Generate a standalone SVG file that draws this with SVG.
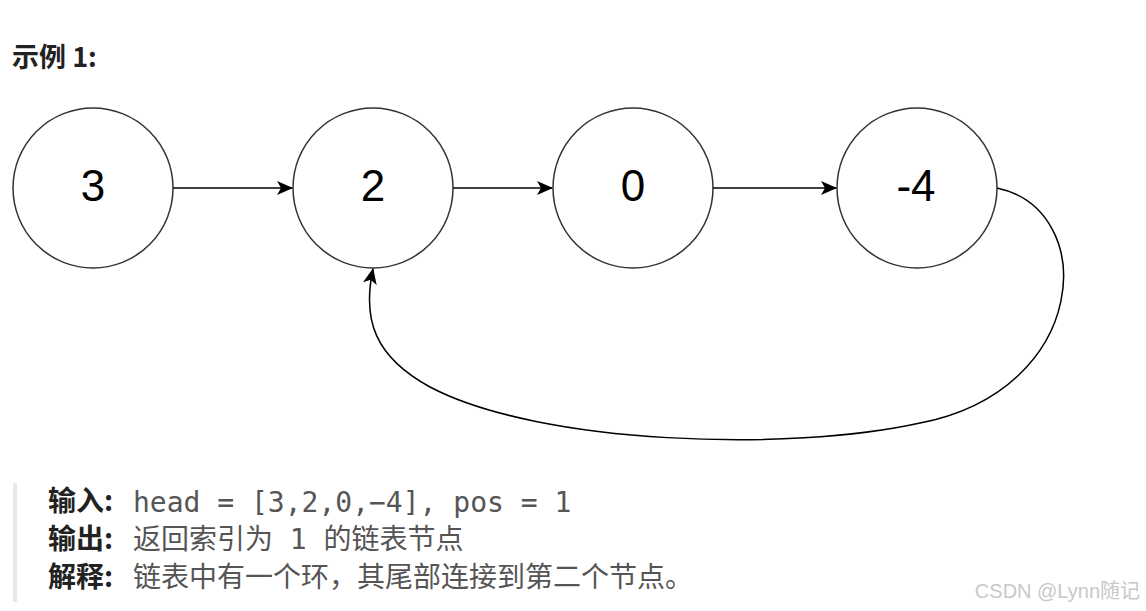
<svg xmlns="http://www.w3.org/2000/svg" width="1146" height="611" viewBox="0 0 1146 611">
<style>
.node{fill:#fff;stroke:#333;stroke-width:1.5}
.lbl{font-family:"Liberation Sans",Arial,sans-serif;font-size:44px;fill:#000;text-anchor:middle}
.edge{fill:none;stroke:#000;stroke-width:1.5}
.h{font-family:"Noto Sans CJK SC","Noto Sans",sans-serif;font-weight:bold;font-size:28px;fill:#222}
.t{font-family:"Noto Sans CJK SC","Noto Sans",sans-serif;font-size:28px;fill:#555}
.m{font-family:"DejaVu Sans Mono","Liberation Mono",monospace;font-size:28px;fill:#555}
</style>
<defs>
<marker id="ah" viewBox="0 0 16 14" refX="15" refY="7" markerWidth="16" markerHeight="14" markerUnits="userSpaceOnUse" orient="auto">
<path d="M0,0 L16,7 L0,14 L4,7 Z" fill="#000"/>
</marker>
</defs>
<rect width="1146" height="611" fill="#fff"/>
<text class="h" x="12" y="67" style="font-size:27px">示例 1:</text>
<g id="n0"><circle class="node" cx="93" cy="188" r="80"/><text class="lbl" x="93" y="201">3</text></g>
<g id="n1"><circle class="node" cx="373" cy="188" r="80"/><text class="lbl" x="373" y="201">2</text></g>
<g id="n2"><circle class="node" cx="633" cy="188" r="80"/><text class="lbl" x="633" y="201">0</text></g>
<g id="n3"><circle class="node" cx="917" cy="188" r="80"/><text class="lbl" x="916" y="201">-4</text></g>
<g id="edges">
<path class="edge" marker-end="url(#ah)" d="M997 188 C1100 210,1090 390,920 423 C790 452,540 445,430 387 C375 357,362 320,373 269"/>
<path class="edge" marker-end="url(#ah)" d="M173 188 L292 188"/>
<path class="edge" marker-end="url(#ah)" d="M453 188 L552 188"/>
<path class="edge" marker-end="url(#ah)" d="M713 188 L836 188"/>
</g>
<rect x="13" y="483" width="4" height="119" fill="#e8e8e8"/>
<text class="h" x="48" y="511">输入:</text><text class="m" x="133" y="512">head = [3,2,0,−4], pos = 1</text>
<text class="h" x="48" y="549">输出:</text><text class="t" x="133" y="549">返回索引为<tspan class="m" font-family="DejaVu Sans Mono, monospace"> 1 </tspan>的链表节点</text>
<text class="h" x="48" y="587">解释:</text><text class="t" x="133" y="587">链表中有一个环，其尾部连接到第二个节点。</text>
<text x="1140" y="598" text-anchor="end" style="font-family:'Liberation Sans','Noto Sans CJK SC',sans-serif;font-size:20px;fill:#c8c8c8">CSDN @Lynn随记</text>
</svg>
